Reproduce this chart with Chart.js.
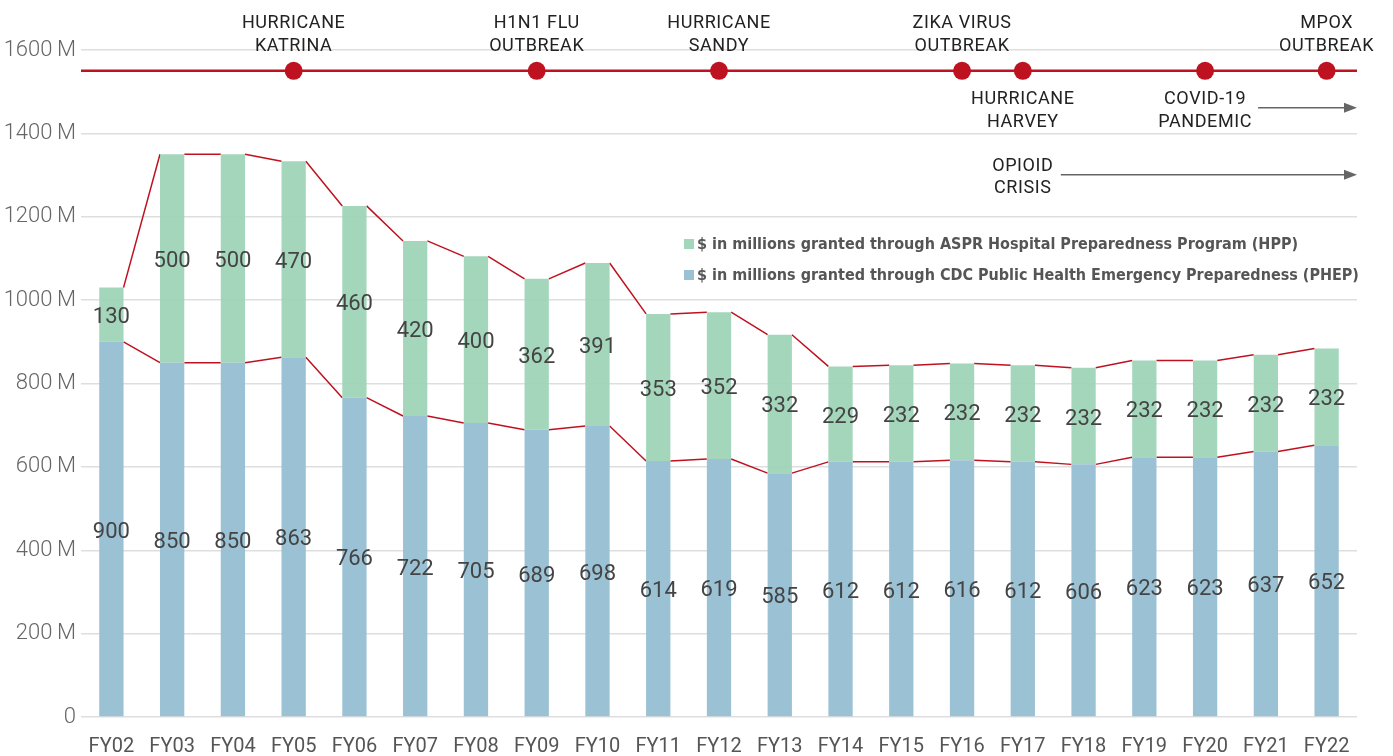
<!DOCTYPE html>
<html>
<head>
<meta charset="utf-8">
<script src="https://cdn.jsdelivr.net/npm/chart.js@4/dist/chart.umd.min.js"></script>
<style>
  html, body { margin: 0; padding: 0; background: #ffffff; }
  #wrap { width: 1393px; height: 756px; position: relative; }
</style>
</head>
<body>
<div id="wrap"><canvas id="c" width="1393" height="756"></canvas></div>
<script>
// ---- Data ----
const categories = ['FY02','FY03','FY04','FY05','FY06','FY07','FY08','FY09','FY10','FY11','FY12','FY13','FY14','FY15','FY16','FY17','FY18','FY19','FY20','FY21','FY22'];
const phepValues = [900,850,850,863,766,722,705,689,698,614,619,585,612,612,616,612,606,623,623,637,652];
const hppValues  = [130,500,500,470,460,420,400,362,391,353,352,332,229,232,232,232,232,232,232,232,232];
const yTickValues = [0,200,400,600,800,1000,1200,1400,1600];
const seriesNames = [
  '$ in millions granted through ASPR Hospital Preparedness Program (HPP)',
  '$ in millions granted through CDC Public Health Emergency Preparedness (PHEP)'
];
const timelineValue = 1550;
const eventCategories = ['FY05','FY09','FY12','FY16','FY17','FY20','FY22'];
const eventLabels = [['HURRICANE','KATRINA'],['H1N1 FLU','OUTBREAK'],['HURRICANE','SANDY'],['ZIKA VIRUS','OUTBREAK'],['HURRICANE','HARVEY'],['COVID-19','PANDEMIC'],['MPOX','OUTBREAK']];
const eventSides = ['above','above','above','above','below','below','above'];
const ongoingCategory = 'FY17';
const ongoingLabel = ['OPIOID','CRISIS'];

// ---- Styles ----
const GREEN = 'rgba(156,210,182,0.92)';
const BLUE = 'rgba(150,190,210,0.95)';
const RED = '#bf1220';
const eventDots = categories.map(c => eventCategories.includes(c) ? timelineValue : null);

const overlayPlugin = {
  id: 'overlay',
  beforeDatasetsDraw(chart) {
    const ctx = chart.ctx, ca = chart.chartArea, y = chart.scales.y;
    const ty = y.getPixelForValue(timelineValue);
    ctx.save();
    ctx.strokeStyle = RED; ctx.lineWidth = 2.5;
    ctx.beginPath(); ctx.moveTo(ca.left, ty); ctx.lineTo(ca.right, ty); ctx.stroke();
    const mb = chart.getDatasetMeta(0).data, mg = chart.getDatasetMeta(1).data;
    ctx.strokeStyle = RED; ctx.lineWidth = 1.5;
    [mb, mg].forEach(els => {
      ctx.beginPath();
      for (let i = 0; i < els.length - 1; i++) {
        const a = els[i], b = els[i + 1];
        ctx.moveTo(a.x + a.width / 2, a.y);
        ctx.lineTo(b.x - b.width / 2, b.y);
      }
      ctx.stroke();
    });
    ctx.restore();
  },
  afterDraw(chart) {
    const ctx = chart.ctx, ca = chart.chartArea, x = chart.scales.x, y = chart.scales.y;
    ctx.save();
    // value labels
    ctx.font = '400 22px Roboto';
    ctx.fillStyle = '#444';
    ctx.textAlign = 'center';
    ctx.textBaseline = 'middle';
    [0, 1].forEach(di => {
      const vals = chart.data.datasets[di].data;
      chart.getDatasetMeta(di).data.forEach((el, i) => {
        ctx.fillText(String(vals[i]), el.x, (el.y + el.base) / 2 + 3);
      });
    });
    // event labels
    const ty = y.getPixelForValue(timelineValue);
    ctx.font = '400 18px Roboto';
    ctx.fillStyle = '#222';
    if ('letterSpacing' in ctx) ctx.letterSpacing = '0.6px';
    eventCategories.forEach((c, i) => {
      const px = x.getPixelForValue(categories.indexOf(c));
      const lines = eventLabels[i];
      const offs = eventSides[i] === 'above' ? [-47, -24] : [29, 52];
      lines.forEach((t, k) => ctx.fillText(t, px, ty + offs[k]));
    });
    const opx = x.getPixelForValue(categories.indexOf(ongoingCategory));
    ongoingLabel.forEach((t, k) => ctx.fillText(t, opx, ty + [96, 118][k]));
    if ('letterSpacing' in ctx) ctx.letterSpacing = '0px';
    // arrows
    const arrow = (x0, x1, yy) => {
      ctx.strokeStyle = '#666'; ctx.fillStyle = '#666'; ctx.lineWidth = 1.5;
      ctx.beginPath(); ctx.moveTo(x0, yy); ctx.lineTo(x1 - 10, yy); ctx.stroke();
      ctx.beginPath(); ctx.moveTo(x1, yy); ctx.lineTo(x1 - 13, yy - 5); ctx.lineTo(x1 - 13, yy + 5); ctx.closePath(); ctx.fill();
    };
    const covidIdx = eventLabels.findIndex(l => l[0] === 'COVID-19');
    const cpx = x.getPixelForValue(categories.indexOf(eventCategories[covidIdx]));
    arrow(cpx + 53, ca.right, ty + 37);
    arrow(opx + 38, ca.right, ty + 104);
    // legend
    const lx = 684;
    const legendY = [244, 275];
    const legendColors = [GREEN, BLUE];
    ctx.font = 'bold 16px "Liberation Sans Narrow", "DejaVu Sans Condensed", sans-serif';
    ctx.textAlign = 'left';
    seriesNames.forEach((n, i) => {
      ctx.fillStyle = legendColors[i];
      ctx.fillRect(lx, legendY[i] - 5, 10, 10);
      ctx.fillStyle = '#555';
      ctx.fillText(n, lx + 13, legendY[i] + 1);
    });
    ctx.restore();
  }
};

new Chart(document.getElementById('c'), {
  data: {
    labels: categories,
    datasets: [
      { type: 'bar', label: seriesNames[1], data: phepValues, backgroundColor: BLUE, stack: 'funds', barPercentage: 0.4, categoryPercentage: 1, order: 2 },
      { type: 'bar', label: seriesNames[0], data: hppValues, backgroundColor: GREEN, stack: 'funds', barPercentage: 0.4, categoryPercentage: 1, order: 2 },
      { type: 'line', label: 'events', data: eventDots, stack: 'events', showLine: false, pointRadius: 9, pointHoverRadius: 9, pointBackgroundColor: RED, pointBorderColor: RED, pointBorderWidth: 0, order: 0 }
    ]
  },
  options: {
    responsive: false,
    animation: false,
    layout: { padding: { left: 0, right: 36, top: 50, bottom: 0 } },
    plugins: { legend: { display: false }, tooltip: { enabled: false } },
    scales: {
      x: {
        stacked: true,
        grid: { display: false, drawTicks: false },
        border: { display: false },
        ticks: { color: '#555', font: { family: 'Roboto', size: 20 }, padding: 18, maxRotation: 0, autoSkip: false },
        afterFit(s) { s.height = 39; }
      },
      y: {
        stacked: true,
        min: 0, max: 1600,
        z: 1,
        afterBuildTicks(s) { s.ticks = yTickValues.map(v => ({ value: v })); },
        grid: { color: 'rgba(0,0,0,0.13)', lineWidth: 1.5, drawTicks: false },
        border: { display: false },
        ticks: {
          color: '#666', font: { family: 'Roboto', size: 22, weight: '300' }, padding: 5,
          callback: v => v === 0 ? '0' : v + '\u2009M'
        },
        afterFit(s) { s.width = 81; }
      }
    }
  },
  plugins: [overlayPlugin]
});
</script>
</body>
</html>
